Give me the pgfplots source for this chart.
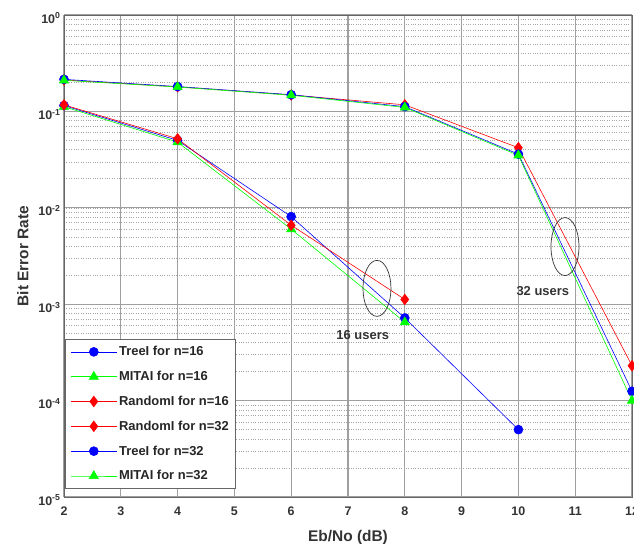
\documentclass[border=0pt]{standalone}
\usepackage{pgfplots}
\pgfplotsset{compat=1.18}
\usepackage{fontspec}
\setmainfont{Liberation Sans}
\begin{document}
\begin{tikzpicture}
\begin{axis}[
  scale only axis,
  width=568bp, height=482bp,
  ymode=log,
  xmin=2, xmax=12, ymin=1e-5, ymax=1,
  xtick={2,3,...,12},
  ytick={1e-5,1e-4,1e-3,1e-2,1e-1,1},
  yticklabels={10\textsuperscript{-5},10\textsuperscript{-4},10\textsuperscript{-3},10\textsuperscript{-2},10\textsuperscript{-1},10\textsuperscript{0}},
  /pgf/number format/assume math mode=true,
  tick label style={font=\bfseries\fontsize{12.5}{14}\selectfont, text=black!80},
  xticklabel style={yshift=-6bp},
  yticklabel style={yshift=-3bp},
  label style={font=\bfseries\fontsize{15.5}{17}\selectfont, text=black!80},
  xlabel={Eb/No (dB)},
  ylabel={Bit Error Rate},
  xlabel style={yshift=-8bp},
  ylabel style={yshift=3bp},
  grid=both,
  major grid style={gray!75, line width=1.1pt},
  minor grid style={gray!70, dotted, line width=0.6pt},
  minor x tick num=0,
  axis line style={gray!80!black, line width=0.9pt},
  tick style={draw=none},
  legend style={at={(0.002,0.017)}, anchor=south west, font=\bfseries\fontsize{13}{15}\selectfont, draw=gray!80!black, line width=0.8pt, row sep=10pt, inner xsep=5pt, inner ysep=5pt, text=black!85},
  legend cell align=left,
  legend image code/.code={\draw[mark repeat=2,mark phase=2] plot coordinates {(0bp,0bp)(23bp,0bp)(46bp,0bp)};},
]
\addplot[blue, line width=0.6pt, mark=*, mark size=4.5pt] coordinates {(2,0.115)(4,0.05)(6,0.0081)(8,7.2e-4)(10,5e-5)};
\addlegendentry{TreeI for n=16}
\addplot[green, line width=0.6pt, mark=triangle*, mark size=5.3pt] coordinates {(2,0.112)(4,0.048)(6,0.006)(8,6.5e-4)};
\addlegendentry{MITAI for n=16}
\addplot[red, line width=0.6pt, mark=diamond*, mark size=5.3pt] coordinates {(2,0.117)(4,0.052)(6,0.0066)(8,1.12e-3)};
\addlegendentry{RandomI for n=16}
\addplot[red, line width=0.6pt, mark=diamond*, mark size=5.3pt] coordinates {(2,0.212)(4,0.18)(6,0.148)(8,0.117)(10,0.042)(12,2.3e-4)};
\addlegendentry{RandomI for n=32}
\addplot[blue, line width=0.6pt, mark=*, mark size=4.5pt] coordinates {(2,0.215)(4,0.181)(6,0.149)(8,0.112)(10,0.036)(12,1.25e-4)};
\addlegendentry{TreeI for n=32}
\addplot[green, line width=0.6pt, mark=triangle*, mark size=5.3pt] coordinates {(2,0.21)(4,0.179)(6,0.147)(8,0.11)(10,0.035)(12,1.0e-4)};
\addlegendentry{MITAI for n=32}
\draw[black!80, line width=0.7pt] (axis cs:7.51,1.46e-3) ellipse [x radius=14bp, y radius=28bp];
\draw[black!80, line width=0.7pt] (axis cs:10.82,3.96e-3) ellipse [x radius=14bp, y radius=29bp];
\node[font=\bfseries\fontsize{13}{15}\selectfont, text=black!80] at (axis cs:7.26,4.8e-4) {16 users};
\node[font=\bfseries\fontsize{13}{15}\selectfont, text=black!80] at (axis cs:10.43,1.36e-3) {32 users};
\end{axis}
\pgfresetboundingbox
\path[use as bounding box] ([xshift=-64bp,yshift=-47bp]current axis.south west) rectangle ([xshift=2bp,yshift=15bp]current axis.north east);
\end{tikzpicture}
\end{document}
